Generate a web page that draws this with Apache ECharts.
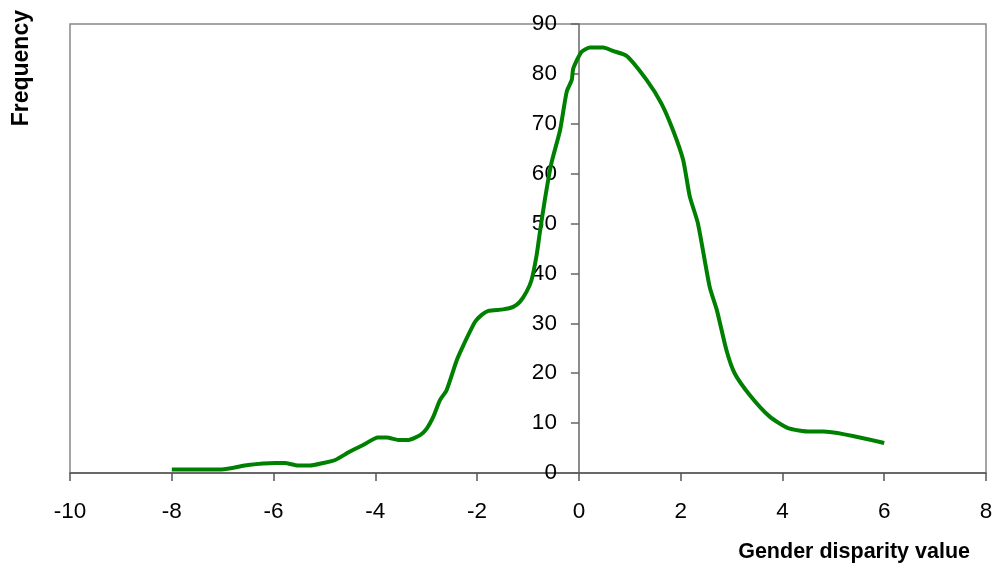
<!DOCTYPE html>
<html>
<head>
<meta charset="utf-8">
<script src="https://cdn.jsdelivr.net/npm/echarts@6/dist/echarts.min.js"></script>
<style>
html,body{margin:0;padding:0;background:#fff;}
#chart{width:997px;height:567px;}
</style>
</head>
<body>
<div id="chart"></div>
<script>
const xValues = [-8, -7.02, -6.5, -5.97, -5.78, -5.52, -5.28, -5.03, -4.79, -4.5, -4.24, -3.95, -3.78, -3.52, -3.36, -3.12, -2.99, -2.86, -2.73, -2.6, -2.4, -2.27, -2.04, -1.91, -1.78, -1.49, -1.29, -1.16, -1.03, -0.93, -0.83, -0.77, -0.67, -0.54, -0.37, -0.24, -0.14, -0.11, 0.05, 0.22, 0.48, 0.67, 0.94, 1.33, 1.62, 1.85, 2.05, 2.18, 2.34, 2.57, 2.71, 2.9, 3.06, 3.36, 3.75, 4.11, 4.54, 4.8, 6];
const frequency = [0.7, 0.7, 1.6, 2.0, 2.0, 1.5, 1.5, 2.0, 2.6, 4.3, 5.6, 7.1, 7.1, 6.6, 6.6, 7.6, 8.9, 11.3, 14.6, 16.6, 22.6, 25.6, 30.3, 31.7, 32.5, 32.8, 33.3, 34.3, 36.3, 38.7, 43.7, 48.0, 54.7, 62.1, 68.7, 76.4, 78.8, 81.1, 84.4, 85.3, 85.3, 84.6, 83.6, 78.8, 74.1, 68.7, 62.7, 55.4, 50.0, 37.3, 32.7, 24.6, 20.0, 15.6, 11.3, 9.0, 8.3, 8.3, 6.0];
const xTitle = 'Gender disparity value';
const yTitle = 'Frequency';

const gridLeft = 70, gridRight = 11;
const chartWidth = 997;
const xMin = -10, xMax = 8;
// place the y axis at x = 0 of the value axis
const yAxisOffset = -((0 - xMin) / (xMax - xMin)) * (chartWidth - gridLeft - gridRight);

const chart = echarts.init(document.getElementById('chart'));
const font = 'Arial, "Liberation Sans", sans-serif';
chart.setOption({
  animation: false,
  grid: {left: gridLeft, right: gridRight, top: 24, bottom: 94, show: true, borderColor: '#888', borderWidth: 1.5, backgroundColor: 'transparent'},
  xAxis: {
    type: 'value', min: xMin, max: xMax, interval: 2,
    axisLine: {show: true, onZero: false, lineStyle: {color: '#555', width: 1.5}},
    axisTick: {show: true, length: 8, lineStyle: {color: '#555', width: 1.5}},
    axisLabel: {color: '#000', fontSize: 22.5, fontFamily: font, margin: 27},
    splitLine: {show: false}
  },
  yAxis: {
    type: 'value', min: 0, max: 90, interval: 10,
    position: 'left', offset: yAxisOffset,
    axisLine: {show: true, onZero: false, lineStyle: {color: '#666', width: 1.5}},
    axisTick: {show: true, length: 8, lineStyle: {color: '#666', width: 1.5}},
    axisLabel: {color: '#000', fontSize: 22.5, fontFamily: font, margin: 22},
    splitLine: {show: false}
  },
  graphic: [
    {type: 'text', left: 10, top: 10, rotation: Math.PI/2, style: {text: yTitle, font: 'bold 23px ' + font, fill: '#000'}},
    {type: 'text', x: 970, y: 552, style: {text: xTitle, font: 'bold 21.5px ' + font, fill: '#000', align: 'right', verticalAlign: 'middle'}}
  ],
  series: [{
    type: 'line',
    data: xValues.map((x, i) => [x, frequency[i]]),
    showSymbol: false,
    smooth: 0.2,
    lineStyle: {color: '#008000', width: 4},
    itemStyle: {color: '#008000'}
  }]
});
</script>
</body>
</html>
